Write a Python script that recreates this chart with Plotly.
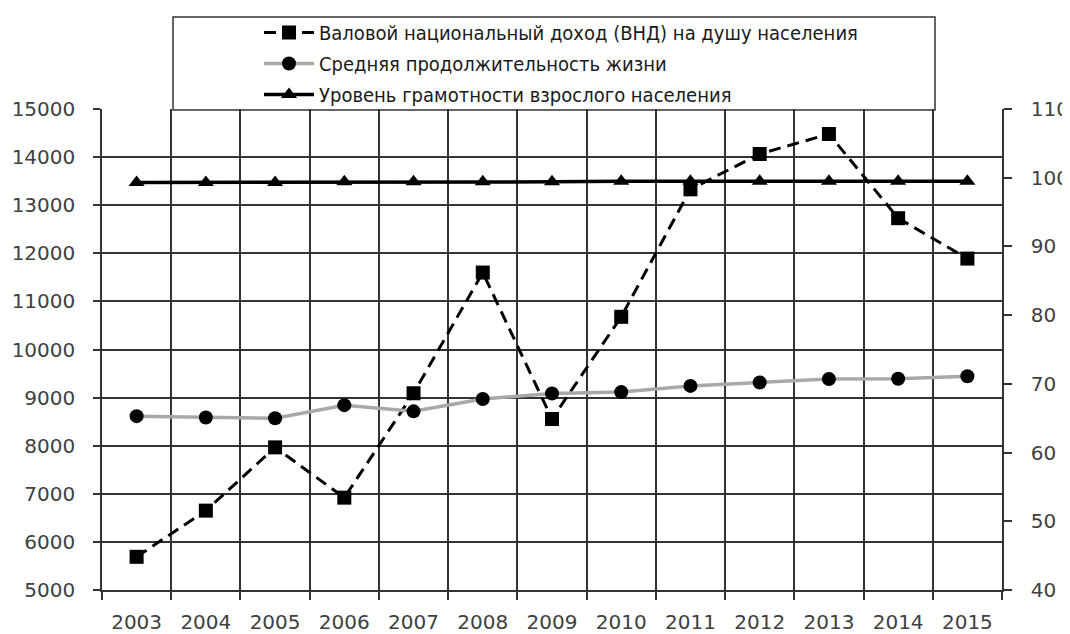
import plotly.graph_objects as go

years = ["2003", "2004", "2005", "2006", "2007", "2008", "2009",
         "2010", "2011", "2012", "2013", "2014", "2015"]
gni = [5690, 6650, 7965, 6920, 9090, 11600, 8555,
       10680, 13330, 14065, 14480, 12730, 11890]
life = [65.3, 65.1, 65.0, 66.9, 66.0, 67.8, 68.6,
        68.8, 69.7, 70.2, 70.7, 70.75, 71.1]
literacy = [99.3, 99.3, 99.3, 99.4, 99.4, 99.4, 99.4,
            99.5, 99.5, 99.5, 99.5, 99.5, 99.5]

names = ["Валовой национальный доход (ВНД) на душу населения",
         "Средняя продолжительность жизни",
         "Уровень грамотности взрослого населения"]

TICK_FONT = dict(family="DejaVu Sans", size=20, color="#404040")
LEG_FONT = dict(family="Liberation Sans Narrow, DejaVu Sans Condensed, Arial Narrow",
                size=20, color="#1a1a1a")
GRID = "#333333"

fig = go.Figure()
fig.add_trace(go.Scatter(
    x=years, y=gni, name=names[0], mode="lines+markers", legendgroup="a",
    line=dict(color="black", width=3, dash="12px,7px"),
    marker=dict(symbol="square", size=14, color="black"),
    yaxis="y"))
fig.add_trace(go.Scatter(
    x=years, y=life, name=names[1], mode="lines+markers", legendgroup="b",
    line=dict(color="#a8a8a8", width=3.5),
    marker=dict(symbol="circle", size=14, color="black"),
    yaxis="y2"))
fig.add_trace(go.Scatter(
    x=years, y=literacy, name=names[2], mode="lines+markers", legendgroup="c",
    line=dict(color="black", width=3.5),
    marker=dict(symbol="triangle-up", size=14, color="black"),
    yaxis="y2"))

# page body adds an 8px margin, so the figure is sized/offset to compensate
OFF = 8
W, H = 1070 - OFF, 634 - OFF
L, T = 102 - OFF, 109 - OFF
pw, ph = 900, 481
R, B = W - L - pw, H - T - ph


def px(xr):
    return (xr - OFF - L) / pw


def py(yr):
    return 1 + (T - (yr - OFF)) / ph


fig.update_layout(
    width=W, height=H,
    margin=dict(l=L, r=R, t=T, b=B, pad=0, autoexpand=False),
    paper_bgcolor="white", plot_bgcolor="white",
    showlegend=True,
    legend=dict(
        x=px(259), y=py(13), xanchor="left", yanchor="top",
        font=LEG_FONT, bgcolor="rgba(0,0,0,0)", borderwidth=0,
        tracegroupgap=2, traceorder="grouped", itemwidth=50,
    ),
    xaxis=dict(
        type="category", tickson="boundaries", showgrid=True, gridcolor=GRID,
        gridwidth=1.5, showline=True, linecolor=GRID, linewidth=1.5,
        ticks="outside", ticklen=8, tickcolor=GRID, tickwidth=1.5,
        tickfont=TICK_FONT, ticklabelstandoff=13, zeroline=False,
        range=[-0.5, 12.5], automargin=False,
    ),
    yaxis=dict(
        range=[5000, 15000], dtick=1000, tickformat="d", showgrid=True, gridcolor=GRID,
        gridwidth=1.5, showline=True, linecolor=GRID, linewidth=1.5,
        ticks="outside", ticklen=7, tickcolor=GRID, tickwidth=1.5,
        tickfont=TICK_FONT, ticklabelstandoff=14, zeroline=False, automargin=False,
    ),
    yaxis2=dict(
        overlaying="y", side="right", range=[40, 110], dtick=10,
        showgrid=False, showline=True, linecolor=GRID, linewidth=1.5,
        ticks="outside", ticklen=8, tickcolor=GRID, tickwidth=1.5,
        tickfont=TICK_FONT, ticklabelstandoff=15, zeroline=False, automargin=False,
    ),
    yaxis3=dict(
        overlaying="y", side="right", range=[40, 110], dtick=10, anchor="x",
        showgrid=False, showline=False, showticklabels=False, automargin=False,
        ticks="inside", ticklen=8, tickcolor=GRID, tickwidth=1.5, zeroline=False,
    ),
    shapes=[dict(
        type="rect", xref="paper", yref="paper",
        x0=px(173), x1=px(935),
        y0=0.998, y1=py(17),
        line=dict(color="#333333", width=1.5), fillcolor="rgba(0,0,0,0)",
        layer="below",
    )],
)

fig.write_html("out.html")
